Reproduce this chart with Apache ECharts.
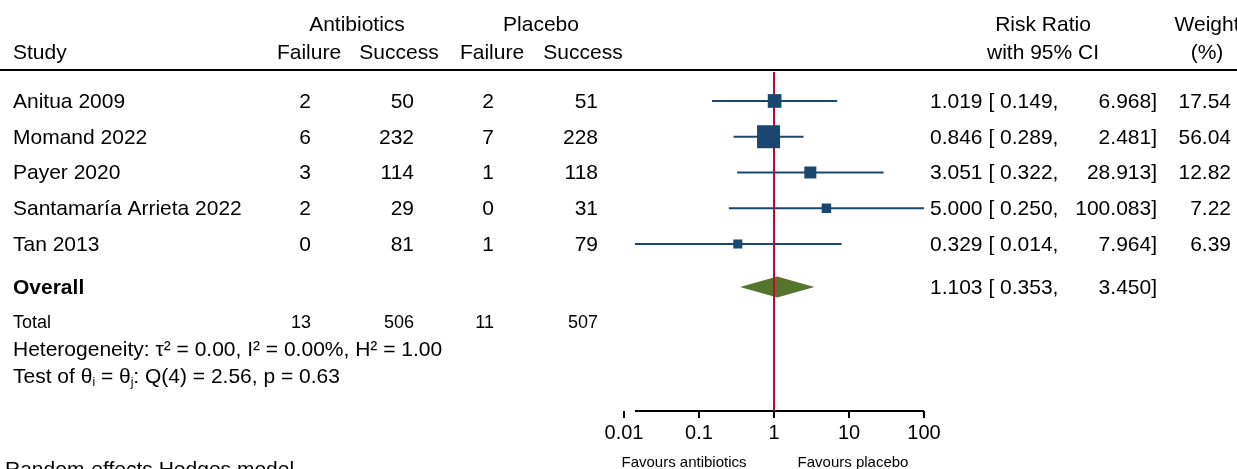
<!DOCTYPE html>
<html>
<head>
<meta charset="utf-8">
<script src="https://cdn.jsdelivr.net/npm/echarts@6/dist/echarts.min.js"></script>
<style>
  html, body { margin: 0; padding: 0; background: #fff; }
  #main { width: 1237px; height: 469px; }
</style>
</head>
<body>
<div id="main"></div>
<script>
// study data
var studies = ['Anitua 2009', 'Momand 2022', 'Payer 2020', 'Santamaría Arrieta 2022', 'Tan 2013'];
var abFail = [2, 6, 3, 2, 0];
var abSucc = [50, 232, 114, 29, 81];
var plFail = [2, 7, 1, 0, 1];
var plSucc = [51, 228, 118, 31, 79];
var rr = [1.019, 0.846, 3.051, 5.000, 0.329];
var ciLow = [0.149, 0.289, 0.322, 0.250, 0.014];
var ciHigh = [6.968, 2.481, 28.913, 100.083, 7.964];
var weights = [17.54, 56.04, 12.82, 7.22, 6.39];
var overall = [1.103, 0.353, 3.450]; // est, lo, hi
var totals = [13, 506, 11, 507];
var tickLabels = ['0.01', '0.1', '1', '10', '100'];

var FONT = 'Liberation Sans, Arial, Helvetica, sans-serif';
var NAVY = '#1a476f', RED = '#c10534', GREEN = '#55752f';

// row positions on the hidden y axis
var OVERALL_ROW = 5.2, TOTAL_ROW = 6.18, HET_ROW = 6.94, TEST_ROW = 7.69;
var Y_MIN = -0.81, Y_MAX = 8.67;

var chart = echarts.init(document.getElementById('main'));

var option = {
  animation: false,
  grid: { left: 624, right: 313, top: 72, bottom: 58 },
  xAxis: {
    type: 'log', logBase: 10, min: 0.01, max: 100, position: 'bottom',
    axisLine: { show: false, onZero: false },
    axisTick: { show: true, length: 7, lineStyle: { color: '#000', width: 2 } },
    axisLabel: {
      margin: 12, fontSize: 20, color: '#000', fontFamily: FONT,
      formatter: function (v) { return tickLabels[Math.round(Math.log10(v)) + 2]; }
    },
    splitLine: { show: false },
    minorTick: { show: false }
  },
  yAxis: { type: 'value', inverse: true, min: Y_MIN, max: Y_MAX, show: false },
  series: [
    {
      // confidence intervals
      type: 'custom', z: 2, clip: false,
      data: studies.map(function (s, i) { return [ciLow[i], i, ciHigh[i]]; }),
      encode: { x: 0, y: 1 },
      renderItem: function (params, api) {
        var a = api.coord([api.value(0), api.value(1)]);
        var b = api.coord([api.value(2), api.value(1)]);
        return { type: 'line', shape: { x1: a[0], y1: a[1], x2: b[0], y2: b[1] },
          style: { stroke: NAVY, lineWidth: 2 } };
      }
    },
    {
      // overall diamond
      type: 'custom', z: 2, clip: false,
      data: [[overall[0], OVERALL_ROW, overall[1], overall[2]]],
      encode: { x: 0, y: 1 },
      renderItem: function (params, api) {
        var c = api.coord([api.value(0), api.value(1)]);
        var l = api.coord([api.value(2), api.value(1)]);
        var r = api.coord([api.value(3), api.value(1)]);
        var h = 10.5;
        return { type: 'polygon',
          shape: { points: [[l[0], c[1]], [c[0], c[1] - h], [r[0], c[1]], [c[0], c[1] + h]] },
          style: { fill: GREEN } };
      }
    },
    {
      // x axis line
      type: 'line', z: 3, clip: false, symbol: 'none', silent: true,
      data: [[Math.min.apply(null, ciLow), Y_MAX], [100, Y_MAX]],
      lineStyle: { color: '#000', width: 2 }
    },
    {
      // line of no effect
      type: 'line', z: 3, clip: false, symbol: 'none', silent: true,
      data: [[1, Y_MIN], [1, Y_MAX]],
      lineStyle: { color: RED, width: 2 }
    },
    {
      // study estimates, box size grows with weight
      type: 'scatter', z: 4, symbol: 'rect',
      data: studies.map(function (s, i) { return [rr[i], i, weights[i]]; }),
      symbolSize: function (d) { return 2.82 * Math.sqrt(d[2]) + 1.9; },
      itemStyle: { color: NAVY, opacity: 1 }
    }
  ]
};
chart.setOption(option);

function rowY(r) { return chart.convertToPixel({ yAxisIndex: 0 }, r); }

function txt(x, y, s, align, size, extra) {
  var st = { text: s, x: x, y: y, align: align || 'left', verticalAlign: 'middle',
    fontSize: size || 21, fontFamily: FONT, fill: '#000' };
  if (extra) for (var k in extra) st[k] = extra[k];
  return { type: 'text', silent: true, style: st, z: 10 };
}

// column layout (px)
var COL = { study: 13, abF: 311, abS: 414, plF: 494, plS: 598, rr: 930, hi: 1157, w: 1231 };

var g = [];
// headers
g.push(txt(357, 25, 'Antibiotics', 'center'));
g.push(txt(541, 25, 'Placebo', 'center'));
g.push(txt(1043, 25, 'Risk Ratio', 'center'));
g.push(txt(1207, 25, 'Weight', 'center'));
g.push(txt(COL.study, 53, 'Study'));
g.push(txt(309, 53, 'Failure', 'center'));
g.push(txt(399, 53, 'Success', 'center'));
g.push(txt(492, 53, 'Failure', 'center'));
g.push(txt(583, 53, 'Success', 'center'));
g.push(txt(1043, 53, 'with 95% CI', 'center'));
g.push(txt(1207, 53, '(%)', 'center'));
g.push({ type: 'line', silent: true, shape: { x1: 0, y1: 70, x2: 1237, y2: 70 },
  style: { stroke: '#000', lineWidth: 2 } });

// study rows
studies.forEach(function (s, i) {
  var y = rowY(i) + 1;
  g.push(txt(COL.study, y, s));
  g.push(txt(COL.abF, y, String(abFail[i]), 'right'));
  g.push(txt(COL.abS, y, String(abSucc[i]), 'right'));
  g.push(txt(COL.plF, y, String(plFail[i]), 'right'));
  g.push(txt(COL.plS, y, String(plSucc[i]), 'right'));
  g.push(txt(COL.rr, y, rr[i].toFixed(3) + ' [ ' + ciLow[i].toFixed(3) + ',', 'left'));
  g.push(txt(COL.hi, y, ciHigh[i].toFixed(3) + ']', 'right'));
  g.push(txt(COL.w, y, weights[i].toFixed(2), 'right'));
});

// overall
var yo = rowY(OVERALL_ROW) + 1;
g.push(txt(COL.study, yo, 'Overall', 'left', 21, { fontWeight: 'bold' }));
g.push(txt(COL.rr, yo, overall[0].toFixed(3) + ' [ ' + overall[1].toFixed(3) + ',', 'left'));
g.push(txt(COL.hi, yo, overall[2].toFixed(3) + ']', 'right'));

// totals
var yt = rowY(TOTAL_ROW) + 1;
g.push(txt(COL.study, yt, 'Total', 'left', 18));
[COL.abF, COL.abS, COL.plF, COL.plS].forEach(function (x, k) {
  g.push(txt(x, yt, String(totals[k]), 'right', 18));
});

g.push(txt(COL.study, rowY(HET_ROW) + 1, 'Heterogeneity: τ² = 0.00, I² = 0.00%, H² = 1.00'));
g.push({ type: 'text', silent: true, z: 10, style: {
  x: COL.study, y: rowY(TEST_ROW) + 1, verticalAlign: 'middle',
  text: 'Test of θ{s|i} = θ{s|j}: Q(4) = 2.56, p = 0.63',
  fontSize: 21, fontFamily: FONT, fill: '#000', lineHeight: 24,
  rich: { s: { fontSize: 12, fontFamily: FONT, fill: '#000', verticalAlign: 'bottom', lineHeight: 24 } }
} });

// bottom notes
g.push(txt(684, 463, 'Favours antibiotics', 'center', 15));
g.push(txt(853, 463, 'Favours placebo', 'center', 15));
g.push(txt(5, 470, 'Random-effects Hedges model', 'left', 21));

chart.setOption({ graphic: g });
</script>
</body>
</html>
